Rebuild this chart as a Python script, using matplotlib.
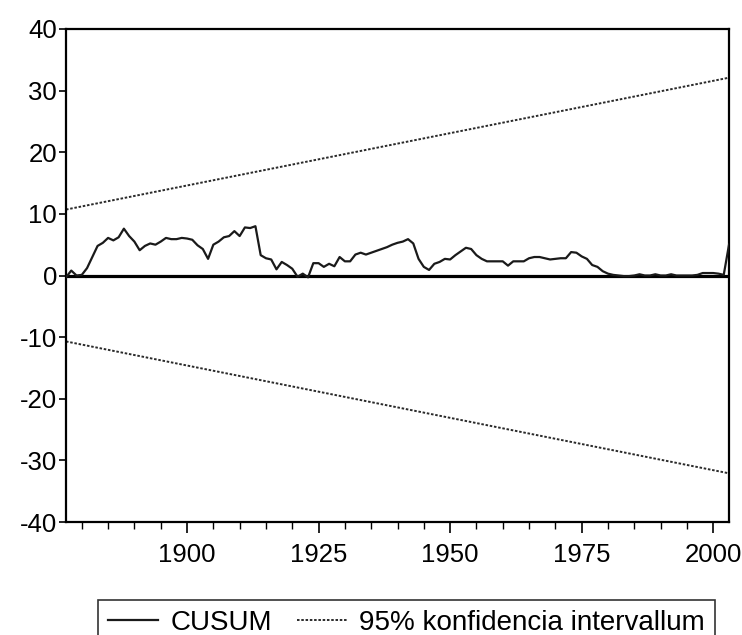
import matplotlib
matplotlib.use("Agg")
import matplotlib.pyplot as plt
from matplotlib.ticker import MultipleLocator, FixedLocator

plt.rcParams['font.family'] = ['Liberation Sans', 'DejaVu Sans']
plt.rcParams['axes.unicode_minus'] = False

first_year = 1877
cusum = [
    -0.3, 0.8, 0.0, 0.1, 1.2, 3.0, 4.8, 5.3, 6.1, 5.7,      # 1877-1886
    6.2, 7.6, 6.4, 5.5, 4.1, 4.8, 5.2, 5.0, 5.5, 6.1,       # 1887-1896
    5.9, 5.9, 6.1, 6.0, 5.8, 4.9, 4.3, 2.7, 5.0, 5.5,       # 1897-1906
    6.2, 6.4, 7.2, 6.4, 7.8, 7.7, 8.0, 3.3, 2.8, 2.6,       # 1907-1916
    1.0, 2.2, 1.7, 1.1, -0.2, 0.3, -0.3, 2.0, 2.0, 1.4,     # 1917-1926
    1.9, 1.5, 3.0, 2.3, 2.3, 3.4, 3.7, 3.4, 3.7, 4.0,       # 1927-1936
    4.3, 4.6, 5.0, 5.3, 5.5, 5.9, 5.2, 2.7, 1.4, 0.9,       # 1937-1946
    1.9, 2.2, 2.7, 2.6, 3.3, 3.9, 4.5, 4.3, 3.3, 2.7,       # 1947-1956
    2.3, 2.3, 2.3, 2.3, 1.6, 2.3, 2.3, 2.3, 2.8, 3.0,       # 1957-1966
    3.0, 2.8, 2.6, 2.7, 2.8, 2.8, 3.8, 3.7, 3.1, 2.7,       # 1967-1976
    1.7, 1.4, 0.7, 0.3, 0.1, 0.0, -0.1, -0.1, 0.0, 0.2,     # 1977-1986
    0.0, 0.0, 0.2, 0.0, 0.0, 0.2, 0.0, 0.0, 0.0, 0.0,       # 1987-1996
    0.1, 0.4, 0.4, 0.4, 0.3, 0.1, 5.0,                      # 1997-2003
]
years = list(range(first_year, first_year + len(cusum)))

bound_years = [1877, 2003]
upper_bound = [10.7, 32.1]
lower_bound = [-10.7, -32.1]

y_ticks = [-40, -30, -20, -10, 0, 10, 20, 30, 40]
x_major = [1900, 1925, 1950, 1975, 2000]

fig = plt.figure(figsize=(7.42, 6.35), dpi=100)
ax = fig.add_axes([66/742, 1 - 522/635, (729 - 66)/742, (522 - 29)/635])

ax.axhline(0, color='black', linewidth=2.3, zorder=2)
l1, = ax.plot(years, cusum, color='#1a1a1a', linewidth=1.6, label='CUSUM', zorder=3)
l2, = ax.plot(bound_years, upper_bound, color='#2a2a2a', linewidth=1.4,
              linestyle=(0, (1.3, 0.9)), label='95% konfidencia intervallum')
ax.plot(bound_years, lower_bound, color='#2a2a2a', linewidth=1.4,
        linestyle=(0, (1.3, 0.9)))

ax.set_xlim(bound_years[0], bound_years[1])
ax.set_ylim(-40, 40)
ax.set_yticks(y_ticks)
ax.xaxis.set_major_locator(FixedLocator(x_major))
ax.xaxis.set_minor_locator(MultipleLocator(5))

for s in ax.spines.values():
    s.set_linewidth(1.6)
    s.set_color('black')

ax.tick_params(axis='y', which='major', direction='out', length=5, width=1.2,
               labelsize=18.5, pad=1.5, colors='black')
ax.tick_params(axis='x', which='major', direction='out', length=8, width=1.2,
               labelsize=18.5, pad=7, colors='black')
ax.tick_params(axis='x', which='minor', direction='out', length=5, width=1.0)

leg = fig.legend(handles=[l1, l2], loc='upper left',
                 bbox_to_anchor=(98/742, 1 - 600/635), ncol=2,
                 fontsize=20, frameon=True, fancybox=False, edgecolor='black',
                 handlelength=1.8, handletextpad=0.45, columnspacing=0.9,
                 borderpad=0.35, borderaxespad=0)
leg.get_frame().set_linewidth(1.2)

fig.savefig('out.png', dpi=100)
